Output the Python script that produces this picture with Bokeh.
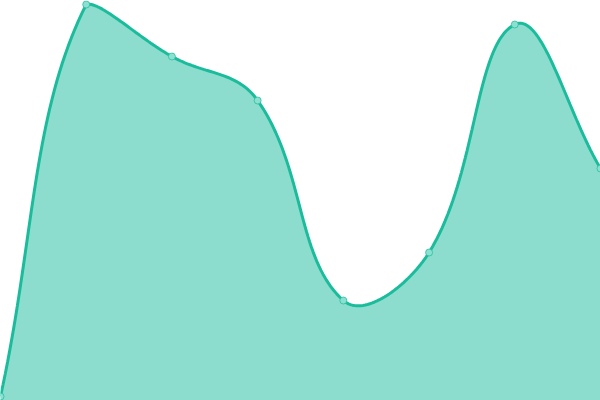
from bokeh.plotting import figure
from bokeh.models import Range1d
from bokeh.embed import file_html
from bokeh.resources import INLINE

# series values (0-100 scale), one per category slot
labels = ["1", "2", "3", "4", "5", "6", "7", "8"]
values = [1, 99, 86, 75, 25, 37, 94, 58]

W, H = 600, 400
y_max = 100
tension = 0.4


def to_px(i, v):
    return i * W / (len(values) - 1), H * (1 - v / y_max)


def to_data(x, y):
    return x * (len(values) - 1) / W, (1 - y / H) * y_max


def clamp(x, y):
    return min(max(x, 0), W), min(max(y, 0), H)


# chart.js style spline control points, worked out in screen space
pts = [to_px(i, v) for i, v in enumerate(values)]
ctrl = []
for i, (x, y) in enumerate(pts):
    prev = pts[i - 1] if i > 0 else pts[i]
    nxt = pts[i + 1] if i < len(pts) - 1 else pts[i]
    d01 = ((x - prev[0]) ** 2 + (y - prev[1]) ** 2) ** 0.5
    d12 = ((nxt[0] - x) ** 2 + (nxt[1] - y) ** 2) ** 0.5
    tot = d01 + d12 if d01 + d12 else 1
    fa = tension * d01 / tot
    fb = tension * d12 / tot
    c_prev = clamp(x - fa * (nxt[0] - prev[0]), y - fa * (nxt[1] - prev[1]))
    c_next = clamp(x + fb * (nxt[0] - prev[0]), y + fb * (nxt[1] - prev[1]))
    ctrl.append((c_prev, c_next))

xs, ys = [], []
steps = 40
for i in range(len(pts) - 1):
    p0, p3 = pts[i], pts[i + 1]
    p1, p2 = ctrl[i][1], ctrl[i + 1][0]
    for k in range(steps + (1 if i == len(pts) - 2 else 0)):
        t = k / steps
        a, b, c, d = (1 - t) ** 3, 3 * (1 - t) ** 2 * t, 3 * (1 - t) * t ** 2, t ** 3
        px = a * p0[0] + b * p1[0] + c * p2[0] + d * p3[0]
        py = a * p0[1] + b * p1[1] + c * p2[1] + d * p3[1]
        dx, dy = to_data(px, py)
        xs.append(dx)
        ys.append(dy)

p = figure(width=W, height=H, output_backend="svg", toolbar_location=None,
           x_range=Range1d(0, len(values) - 1), y_range=Range1d(0, y_max),
           min_border=0)
p.axis.visible = False
p.grid.visible = False
p.outline_line_color = None
p.background_fill_color = "white"
p.border_fill_color = "white"

p.patch(xs + [xs[-1], xs[0]], ys + [0, 0], fill_color="#1ABC9C", fill_alpha=0.5, line_color=None)
p.line(xs, ys, line_color="#1ABC9C", line_width=3)
p.scatter(list(range(len(values))), values, size=7, fill_color="#8CE0CF",
          line_color="#1ABC9C", line_alpha=0.7, line_width=1)

open("out.html", "w").write(file_html(p, INLINE))
